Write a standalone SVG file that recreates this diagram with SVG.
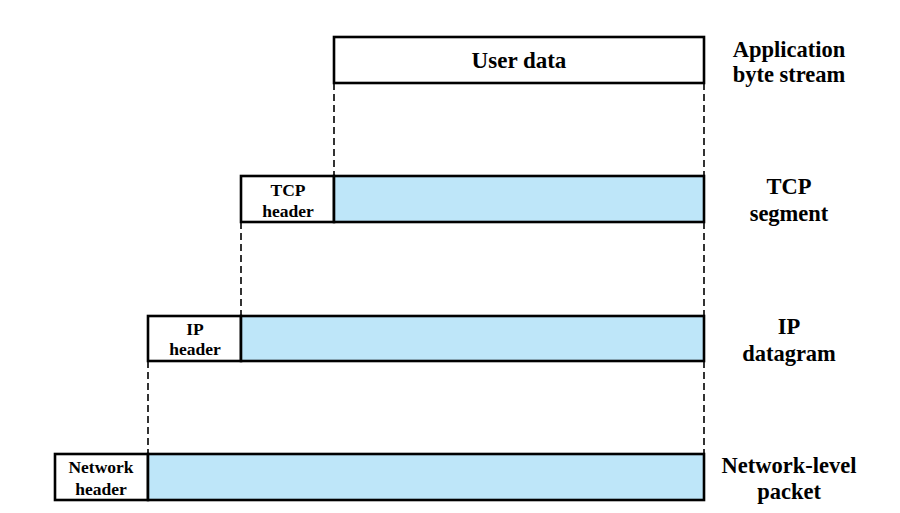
<svg xmlns="http://www.w3.org/2000/svg" width="900" height="513" viewBox="0 0 900 513">
<style>
.box{fill:#fff;stroke:#000;stroke-width:2.6}
.data{fill:#BEE6F9;stroke:#000;stroke-width:2.6}
.dash{stroke:#000;stroke-width:1.6;stroke-dasharray:7,4;fill:none}
.t{font-family:'Liberation Serif','Times New Roman',serif;font-weight:bold;fill:#000;text-anchor:middle}
.big{font-size:23px}
.lbl{font-size:22.5px}
.hdr{font-size:17.5px}
</style>
<rect width="900" height="513" fill="#fff"/>
<g id="connectors">
<line class="dash" x1="334" y1="83" x2="334" y2="176"/>
<line class="dash" x1="704" y1="83" x2="704" y2="176"/>
<line class="dash" x1="241" y1="222" x2="241" y2="316"/>
<line class="dash" x1="704" y1="222" x2="704" y2="316"/>
<line class="dash" x1="148" y1="361" x2="148" y2="454"/>
<line class="dash" x1="704" y1="361" x2="704" y2="454"/>
</g>
<g id="user-data">
<rect class="box" x="334" y="37" width="370" height="46"/>
<text class="t big" x="519" y="68">User data</text>
</g>
<g id="tcp-segment">
<rect class="box" x="241" y="176" width="93" height="46"/>
<rect class="data" x="334" y="176" width="370" height="46"/>
<text class="t hdr" x="288" y="196">TCP</text>
<text class="t hdr" x="288" y="217">header</text>
</g>
<g id="ip-datagram">
<rect class="box" x="148" y="316" width="93" height="45"/>
<rect class="data" x="241" y="316" width="463" height="45"/>
<text class="t hdr" x="195" y="335">IP</text>
<text class="t hdr" x="195" y="355">header</text>
</g>
<g id="network-packet">
<rect class="box" x="55" y="454" width="93" height="46"/>
<rect class="data" x="148" y="454" width="556" height="46"/>
<text class="t hdr" x="101" y="473">Network</text>
<text class="t hdr" x="101" y="495">header</text>
</g>
<g id="labels">
<text class="t lbl" x="789" y="57">Application</text>
<text class="t lbl" x="789" y="82">byte stream</text>
<text class="t lbl" x="789" y="194">TCP</text>
<text class="t lbl" x="789" y="221">segment</text>
<text class="t lbl" x="789" y="334">IP</text>
<text class="t lbl" x="789" y="361">datagram</text>
<text class="t lbl" x="789" y="473">Network-level</text>
<text class="t lbl" x="789" y="499">packet</text>
</g>
</svg>
